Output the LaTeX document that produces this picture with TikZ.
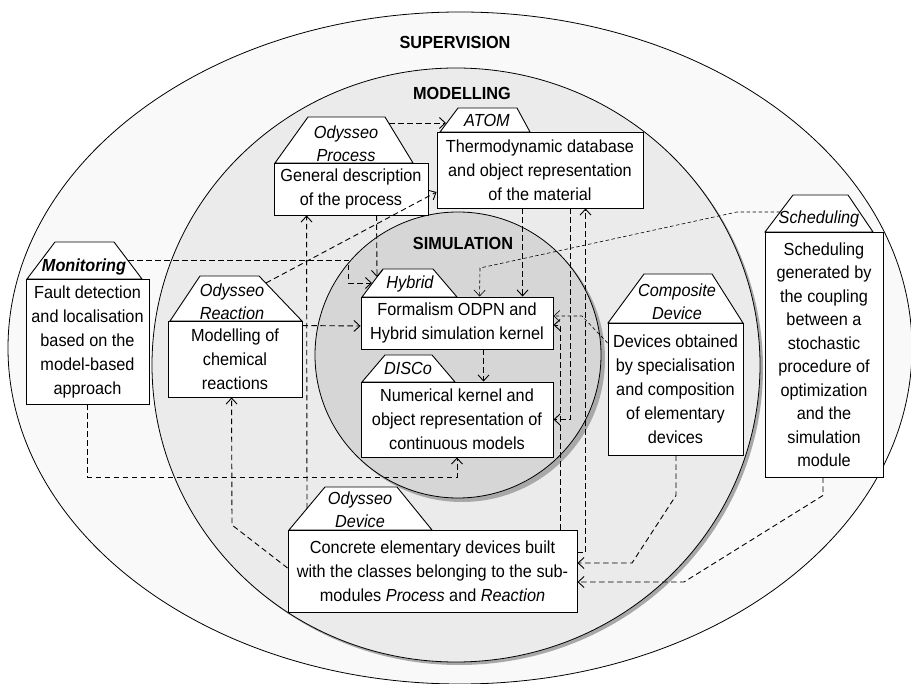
\documentclass[tikz,border=0pt]{standalone}
\usepackage{fontspec}
\setmainfont{Liberation Sans}[FakeStretch=0.93]
\usetikzlibrary{arrows.meta}
\definecolor{supfill}{HTML}{F9F9F9}
\definecolor{modfill}{HTML}{EBEBEB}
\definecolor{simfill}{HTML}{D6D6D6}
\definecolor{shadowc}{HTML}{A8A8A8}
\begin{document}
\begin{tikzpicture}[x=1pt,y=-1pt,
  font=\fontsize{17.5}{24}\selectfont,
  box/.style={draw, line width=0.9pt, fill=white, inner sep=0pt, align=center},
  tabshape/.style={draw, line width=0.9pt, fill=white, line join=miter},
  tablab/.style={inner sep=0pt, align=center, font=\fontsize{17.5}{23.5}\selectfont\itshape},
  title/.style={inner sep=0pt, font=\fontsize{17.5}{20}\selectfont\bfseries},
  conn/.style={line width=0.9pt, dash pattern=on 5.5pt off 3.5pt, -{Straight Barb[length=6pt,width=11pt]}},
  thinconn/.style={conn, line width=0.6pt, dash pattern=on 3.5pt off 2.5pt},
]
\useasboundingbox (0,0) rectangle (911,684);
\fill[white] (0,0) rectangle (911,684);

% ellipses
\draw[fill=supfill, line width=0.8pt] (460,348) ellipse [x radius=452pt, y radius=336pt];
\fill[shadowc] (459,368) ellipse [x radius=304pt, y radius=297pt];
\draw[fill=modfill, line width=0.8pt] (456,365) ellipse [x radius=304pt, y radius=297pt];
\fill[shadowc] (462,359) circle [radius=143pt];
\draw[fill=simfill, line width=0.8pt] (458,355) circle [radius=143pt];

\node[title] (supt) at (455,42) {SUPERVISION};
\node[title] (modt) at (462,93) {MODELLING};
\node[title] (simt) at (463,243) {SIMULATION};

% Odysseo Process
\draw[tabshape] (275,163) -- (308,117) -- (385,117) -- (413,163) -- cycle;
\node[tablab] (procl) at (346,143.5) {Odysseo\\Process};
\node[box, minimum width=154pt, minimum height=52pt] (proc) at (351,189) {General description\\of the process};

% ATOM
\draw[tabshape] (440,132) -- (458,108) -- (517,108) -- (530,132) -- cycle;
\node[tablab] (atoml) at (487,120.5) {ATOM};
\node[box, minimum width=206pt, minimum height=76pt] (atom) at (540,170) {Thermodynamic database\\and object representation\\of the material};

% Monitoring
\draw[tabshape] (27,279) -- (55,242) -- (114,242) -- (142,279) -- cycle;
\node[tablab, font=\fontsize{17.5}{23.5}\selectfont\bfseries\itshape] (monl) at (84,267) {Monitoring};
\node[box, minimum width=123pt, minimum height=125pt] (mon) at (87.5,341.5) {Fault detection\\and localisation\\based on the\\model-based\\approach};

% Odysseo Reaction
\draw[tabshape] (170,321) -- (200,276) -- (259,276) -- (302,321) -- cycle;
\node[tablab] (reacl) at (232,301.5) {Odysseo\\Reaction};
\node[box, minimum width=134pt, minimum height=76pt] (reac) at (235,359) {Modelling of\\chemical\\reactions};

% Hybrid
\draw[tabshape] (362,297) -- (383,269) -- (433,269) -- (457,297) -- cycle;
\node[tablab] (hybl) at (410,283.5) {Hybrid};
\node[box, minimum width=192pt, minimum height=52pt] (hyb) at (457,323) {Formalism ODPN and\\Hybrid simulation kernel};

% DISCo
\draw[tabshape] (362,382) -- (385,355) -- (432,355) -- (455,382) -- cycle;
\node[tablab] (discol) at (408,368.5) {DISCo};
\node[box, minimum width=192pt, minimum height=75pt] (disco) at (457,419.5) {Numerical kernel and\\object representation of\\continuous models};

% Composite Device
\draw[tabshape] (608,323) -- (644,274) -- (712,274) -- (743,323) -- cycle;
\node[tablab] (compl) at (677,301.5) {Composite\\Device};
\node[box, minimum width=135pt, minimum height=132pt] (comp) at (675.5,389) {Devices obtained\\by specialisation\\and composition\\of elementary\\devices};

% Scheduling
\draw[tabshape] (765,232) -- (793,195) -- (848,195) -- (873,232) -- cycle;
\node[tablab] (schedl) at (819,219) {Scheduling};
\node[box, minimum width=118pt, minimum height=245pt, font=\fontsize{17.5}{23.5}\selectfont] (sched) at (824,354.5) {Scheduling\\generated by\\the coupling\\between a\\stochastic\\procedure of\\optimization\\and the\\simulation\\module};

% Odysseo Device
\draw[tabshape] (289,530) -- (325,487) -- (397,487) -- (432,530) -- cycle;
\node[tablab] (odevl) at (360,509.5) {Odysseo\\Device};
\node[box, minimum width=289pt, minimum height=82pt] (odev) at (432.5,571) {Concrete elementary devices built\\with the classes belonging to the sub-\\modules \textit{Process} and \textit{Reaction}};

% connector end points on the tabs
\coordinate (procTabR) at (389,123);
\coordinate (atomTabL) at (446,123);
\coordinate (hybTabA) at (377,277);
\coordinate (hybTabB) at (372,283);
\coordinate (reacTabR) at (266,283);
\coordinate (monTabR) at (128,260);
\coordinate (schedTabL) at (780,212);
\coordinate (odevTabL) at (307,508.5);

% connectors
\draw[conn] (procTabR) -- (atomTabL);
\draw[conn] ([xshift=103pt]proc.south west) -- (hybTabA);
\draw[conn] (reacTabR) -- ([yshift=-22pt]atom.west);
\draw[conn] (monTabR) -- (348,260) |- (hybTabB);
\draw[conn] ([yshift=-5pt]reac.north east) -- ([yshift=-3pt]hyb.west);
\draw[conn] ([xshift=86pt]atom.south west) -- ([xshift=162pt]hyb.north west);
\draw[conn] ([xshift=123pt]hyb.south west) -- ([xshift=123pt]disco.north west);
\draw[conn] ([xshift=134pt]atom.south west) |- (disco.east);
\draw[conn] ([yshift=-23pt]odev.north east) -| ([xshift=149pt]atom.south west);
\draw[conn] ([xshift=273pt]odev.north west) |- ([yshift=-2pt]hyb.east);
\draw[thinconn] ([yshift=46pt]comp.west) -- (582,316) -- ([yshift=7pt]hyb.east);
\draw[thinconn] (schedTabL) -- (737,212) -- (480,268) -- ([xshift=119pt]hyb.north west);
\draw[conn] (mon.south) -- ++(0,73) -| (disco.south);
\draw[conn] (odevTabL) -- ([xshift=33pt]proc.south west);
\draw[conn] ([yshift=3pt]odev.west) -- (232,525) -- ([xshift=64pt]reac.south west);
\draw[conn] ([xshift=0.5pt]comp.south) -- ++(0,40) -- (632,563) -- ([yshift=8pt]odev.east);
\draw[conn] ([xshift=-1pt]sched.south) -- ++(0,18) -- (684,582) -- ([yshift=-11pt]odev.east);
\end{tikzpicture}
\end{document}
